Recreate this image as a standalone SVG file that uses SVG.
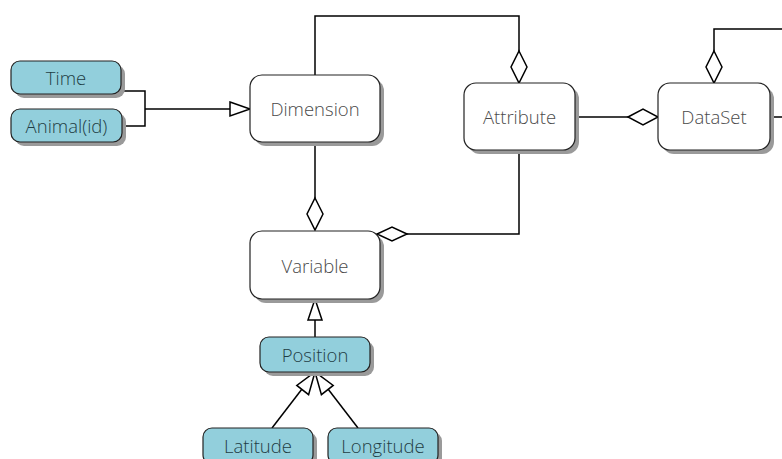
<svg xmlns="http://www.w3.org/2000/svg" width="782" height="459" viewBox="0 0 782 459">
<style>
.sh{fill:#9a9a9a}
.w{fill:#fff;stroke:#222;stroke-width:1.2}
.b{fill:#92cfdc;stroke:#222;stroke-width:1.2}
.t{font-family:"Open Sans","DejaVu Sans",sans-serif;font-size:18.5px;font-weight:300;fill:#4a4a4a;text-anchor:middle;dominant-baseline:central}
.tb{font-family:"Open Sans","DejaVu Sans",sans-serif;font-size:18.5px;font-weight:300;fill:#1f3d44;text-anchor:middle;dominant-baseline:central}
.l{fill:none;stroke:#000;stroke-width:1.5}
.d{fill:#fff;stroke:#000;stroke-width:1.5}
</style>
<rect width="782" height="459" fill="#fff"/>
<g id="connectors">
<polyline class="l" points="121,91 145,91 145,126 122,126"/>
<line class="l" x1="145" y1="109" x2="230" y2="109"/>
<polygon class="d" points="230,102 250,109 230,116"/>
<polyline class="l" points="315,75 315,16 519,16 519,51"/>
<polygon class="d" points="519,51 527,67 519,83 511,67"/>
<polyline class="l" points="714,51 714,29 782,29"/>
<polygon class="d" points="714,51 722,67 714,83 706,67"/>
<line class="l" x1="575" y1="117" x2="628" y2="117"/>
<polygon class="d" points="628,117 643,109 658,117 643,125"/>
<line class="l" x1="770" y1="117" x2="782" y2="117"/>
<line class="l" x1="315" y1="142" x2="315" y2="198"/>
<polygon class="d" points="315,198 323,214 315,230 307,214"/>
<polyline class="l" points="519,150 519,234 407,234"/>
<polygon class="d" points="407,234 392,227 377,234 392,241"/>
<line class="l" x1="315" y1="320" x2="315" y2="337"/>
<polygon class="d" points="315,299 322,320 308,320"/>
<line class="l" x1="272" y1="428" x2="302" y2="389"/>
<line class="l" x1="358" y1="428" x2="328" y2="389"/>
<polygon class="d" points="315,372 308.6,394.6 296.8,385.4"/>
<polygon class="d" points="315,372 321.4,394.6 333.2,385.4"/>
</g>
<g id="time"><rect class="sh" x="15" y="65" width="110" height="33" rx="9"/><rect class="b" x="11" y="61" width="110" height="33" rx="9"/><text class="tb" x="66" y="77.5">Time</text></g>
<g id="animal"><rect class="sh" x="15" y="113" width="111" height="33" rx="9"/><rect class="b" x="11" y="109" width="111" height="33" rx="9"/><text class="tb" x="66.5" y="125.5">Animal(id)</text></g>
<g id="dimension"><rect class="sh" x="254" y="79" width="130" height="67" rx="12"/><rect class="w" x="250" y="75" width="130" height="67" rx="12"/><text class="t" x="315" y="108">Dimension</text></g>
<g id="attribute"><rect class="sh" x="468" y="87" width="111" height="67" rx="12"/><rect class="w" x="464" y="83" width="111" height="67" rx="12"/><text class="t" x="519.5" y="116">Attribute</text></g>
<g id="dataset"><rect class="sh" x="662" y="87" width="112" height="67" rx="12"/><rect class="w" x="658" y="83" width="112" height="67" rx="12"/><text class="t" x="714" y="116">DataSet</text></g>
<g id="variable"><rect class="sh" x="254" y="235" width="130" height="68" rx="12"/><rect class="w" x="250" y="231" width="130" height="68" rx="12"/><text class="t" x="315" y="265">Variable</text></g>
<g id="position"><rect class="sh" x="264" y="341" width="110" height="35" rx="9"/><rect class="b" x="260" y="337" width="110" height="35" rx="9"/><text class="tb" x="315" y="354.5">Position</text></g>
<g id="latitude"><rect class="sh" x="207" y="432" width="110" height="36" rx="9"/><rect class="b" x="203" y="428" width="110" height="36" rx="9"/><text class="tb" x="258" y="445">Latitude</text></g>
<g id="longitude"><rect class="sh" x="332" y="432" width="110" height="36" rx="9"/><rect class="b" x="328" y="428" width="110" height="36" rx="9"/><text class="tb" x="383" y="445">Longitude</text></g>
</svg>
